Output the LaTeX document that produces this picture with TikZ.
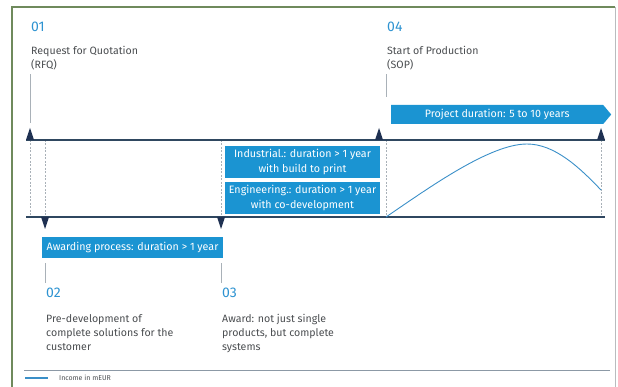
\documentclass[tikz,border=0pt]{standalone}
\usepackage{fontspec}
\setmainfont{Fira Sans}
\usetikzlibrary{arrows.meta,positioning,shapes.symbols}

\definecolor{boxblue}{HTML}{1B94D2}
\definecolor{numblue}{HTML}{2E93D1}
\definecolor{axisnavy}{HTML}{2F4760}
\definecolor{tipnavy}{HTML}{1F3152}
\definecolor{txtgray}{HTML}{4A4D50}
\definecolor{guidegray}{HTML}{A9B1B8}
\definecolor{framegreen}{HTML}{6F8A5C}
\definecolor{framegray}{HTML}{B9BCBE}
\definecolor{curveblue}{HTML}{3A8FC8}
\definecolor{sepgray}{HTML}{8C99A6}

\begin{document}
\begin{tikzpicture}[
  x=1pt, y=-1pt,
  num/.style={anchor=north west, inner sep=0pt,
              font=\fontsize{14}{16}\selectfont, text=numblue},
  desc/.style={anchor=north west, inner sep=0pt, align=left,
               font=\fontsize{10.6}{14}\selectfont, text=txtgray},
  bluebox/.style={fill=boxblue, text=white, inner sep=0pt, align=center,
                  font=\fontsize{10.7}{15}\selectfont},
  axis/.style={draw=axisnavy, line width=1.2pt},
  guide/.style={draw=guidegray, line width=0.8pt},
  dashguide/.style={draw=guidegray, line width=0.7pt, dash pattern=on 2pt off 1.5pt},
  curve/.style={draw=curveblue, line width=0.9pt},
  uptri/.pic={\fill[tipnavy] (-4,0) -- (4,0) -- (0,-12) -- cycle;},
  downtri/.pic={\fill[tipnavy] (-4,0) -- (4,0) -- (0,12) -- cycle;},
]
  \useasboundingbox (0,0) rectangle (618,387);

  %% frame
  \draw[framegreen, line width=1.2pt] (12,392) -- (12,7) -- (615,7);
  \draw[framegray, line width=0.8pt] (615,7) -- (615,392);

  %% time axis
  \coordinate (ax-tl) at (26,140);
  \coordinate (ax-tr) at (605,140);
  \coordinate (ax-bl) at (26,217);
  \coordinate (ax-br) at (605,217);
  \coordinate (rfq)   at (30,140);
  \coordinate (pre)   at (45,217);
  \coordinate (award) at (221,217);
  \coordinate (sop)   at (386,140);
  \coordinate (eop)   at (601,140);

  \foreach \m in {rfq, sop, eop}
    \draw[dashguide] (\m) -- (\m |- ax-bl);
  \foreach \m in {pre, award}
    \draw[dashguide] (\m |- ax-tl) -- (\m);

  \draw[axis] (ax-tl) -- (ax-tr);
  \draw[axis] (ax-bl) -- (ax-br);

  \pic at (rfq) {uptri};
  \pic at ([xshift=-7pt]sop) {uptri};
  \pic at (eop) {uptri};
  \pic at (pre) {downtri};
  \pic at (award) {downtri};

  %% milestones
  \node[num]  (n01) at (31,22)  {01};
  \node[desc] (t01) at (31,46)  {Request for Quotation\\(RFQ)};
  \node[num]  (n04) at (387,22) {04};
  \node[desc] (t04) at (387,46) {Start of Production\\(SOP)};
  \node[num]  (n02) at (46,288) {02};
  \node[desc] (t02) at (46,314) {Pre-development of\\complete solutions for the\\customer};
  \node[num]  (n03) at (222,288) {03};
  \node[desc] (t03) at (222,314) {Award: not just single\\products, but complete\\systems};

  \draw[guide] ([yshift=-4pt]t01.south -| rfq) -- ([yshift=17pt]rfq);
  \draw[guide] ([yshift=-4pt]t04.south -| sop) -- ([yshift=43pt]sop);

  %% duration bars
  \node[bluebox, minimum width=181, minimum height=21] (awd) at (132.5,247.5)
    {Awarding process: duration > 1 year};
  \node[bluebox, minimum width=155, minimum height=32] (ind) at (302.5,162)
    {Industrial.: duration > 1 year\\with build to print};
  \node[bluebox, minimum width=155, minimum height=32] (eng) at (302.5,198)
    {Engineering.: duration > 1 year\\with co-development};
  \node[bluebox, signal, signal to=east, signal pointer angle=100,
        minimum width=220, minimum height=19, anchor=west] (prj) at (391,114.5)
    {Project duration: 5 to 10 years};

  \draw[guide] ([yshift=-5pt]awd.south -| pre) -- ([yshift=5pt]n02.north -| pre);
  \draw[guide] ([yshift=-5pt]awd.south -| award) -- ([yshift=5pt]n03.north -| award);

  %% income curve
  \draw[curve] (sop |- ax-bl) .. controls (430,187) and (490,144) .. (527,144)
    .. controls (555,144) and (580,168) .. (eop |- 0,190);

  %% legend
  \draw[sepgray, line width=0.8pt] (24,370) -- (610,370);
  \coordinate (lg) at (25,378);
  \draw[curve, line width=1.1pt] (lg) -- ++(23,0) coordinate (lg-end);
  \node[right=11pt of lg-end, inner sep=0pt, text=txtgray,
        font=\fontsize{7}{8}\selectfont] (lg-txt) {Income in mEUR};
\end{tikzpicture}
\end{document}
